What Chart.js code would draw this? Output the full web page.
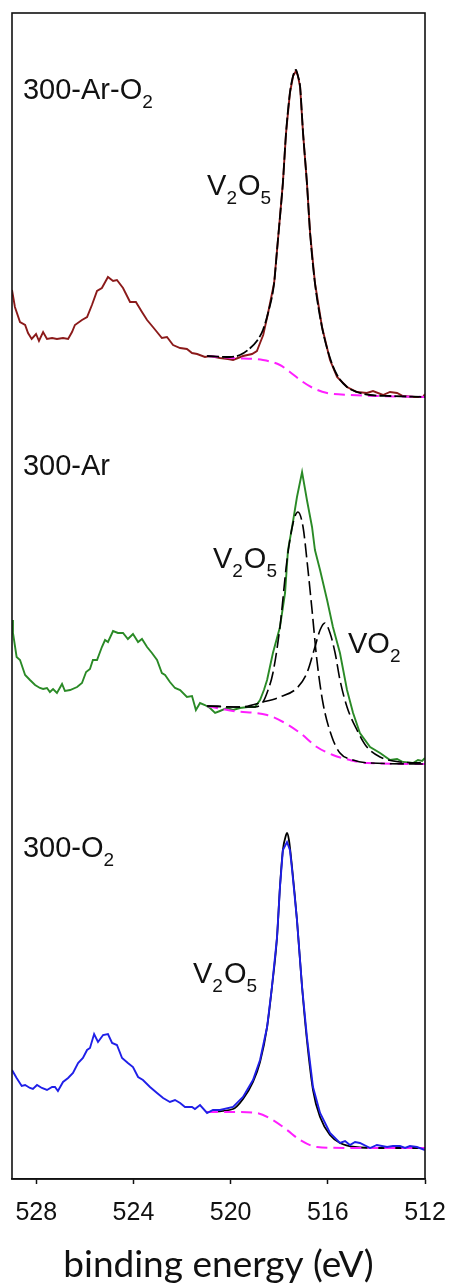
<!DOCTYPE html>
<html>
<head>
<meta charset="utf-8">
<script src="https://cdn.jsdelivr.net/npm/chart.js@4.4.1/dist/chart.umd.min.js"></script>
<style>
html,body{margin:0;padding:0;background:#fff;}
#wrap{width:451px;height:1288px;position:relative;}
</style>
</head>
<body>
<div id="wrap"><canvas id="c" width="451" height="1288"></canvas></div>
<script>
// ---- x axis ----
const xTicks = [528, 524, 520, 516, 512];
const xMin = 512, xMax = 529;
const xTitle = 'binding energy (eV)';

// ---- 300-Ar-O2 (top) : [binding energy eV, intensity a.u. incl. offset] ----
const specArO2 = [[529.00,889],[528.88,872],[528.67,857],[528.46,854],[528.34,846],[528.19,840],[528.01,845],[527.89,838],[527.72,847],[527.56,840],[527.35,841],[527.15,840],[526.90,841],[526.69,840],[526.53,847],[526.41,854],[526.12,859],[525.91,862],[525.71,874],[525.50,888],[525.30,891],[525.05,902],[524.84,898],[524.68,899],[524.43,891],[524.14,877],[523.90,877],[523.65,867],[523.44,859],[523.20,852],[522.83,841],[522.62,842],[522.37,834],[522.08,831],[521.80,830],[521.59,826],[521.38,825],[521.06,822],[520.85,823],[520.44,821],[520.11,820],[519.90,819],[519.70,821],[519.49,823],[519.12,825],[518.92,828],[518.79,836],[518.66,844],[518.46,866],[518.21,896],[518.09,929],[517.97,962],[517.85,996],[517.72,1046],[517.56,1086],[517.43,1103],[517.31,1108],[517.23,1103],[517.14,1092],[517.02,1046],[516.86,996],[516.73,946],[516.53,896],[516.24,852],[515.91,819],[515.62,802],[515.21,792],[514.80,787],[514.39,786],[514.14,788],[513.73,784],[513.44,787],[513.15,786],[512.91,783],[512.41,782],[512.08,782],[512.00,785]];
const fitArO2 = [[520.97,823],[520.03,822],[519.62,824],[519.29,829],[518.92,838],[518.67,849],[518.46,866],[518.21,896],[518.09,929],[517.97,962],[517.85,996],[517.72,1046],[517.56,1086],[517.43,1103],[517.31,1109],[517.23,1103],[517.14,1092],[517.02,1046],[516.86,996],[516.73,946],[516.53,896],[516.24,852],[515.91,821],[515.62,804],[515.21,792],[514.80,787],[514.26,784],[513.44,783],[512.00,782]];
const bgArO2 = [[520.97,823],[519.90,821],[518.67,819],[517.97,814],[517.56,807],[517.14,799],[516.61,791],[516.03,786],[515.09,784],[512.00,782]];

// ---- 300-Ar (middle) ----
const specAr = [[529.00,559],[528.96,546],[528.81,522],[528.67,519],[528.46,504],[528.26,499],[528.05,494],[527.85,491],[527.72,490],[527.56,491],[527.44,487],[527.31,490],[527.15,486],[526.94,495],[526.82,488],[526.61,489],[526.32,492],[526.12,496],[525.95,507],[525.79,510],[525.67,519],[525.50,519],[525.30,532],[525.17,539],[525.05,537],[524.84,548],[524.64,546],[524.43,546],[524.23,540],[524.02,545],[523.81,537],[523.65,540],[523.44,532],[523.24,526],[523.03,519],[522.83,506],[522.70,504],[522.50,497],[522.29,491],[522.08,489],[521.80,482],[521.59,483],[521.43,469],[521.26,476],[521.06,474],[520.85,471],[520.64,466],[520.44,468],[520.15,471],[519.90,469],[519.62,471],[519.29,472],[519.00,472],[518.79,479],[518.63,489],[518.50,499],[518.26,526],[517.97,552],[517.76,586],[517.64,629],[517.47,652],[517.27,682],[517.06,707],[516.86,679],[516.65,652],[516.53,629],[516.32,609],[516.03,579],[515.79,552],[515.50,526],[515.21,489],[514.96,466],[514.68,446],[514.26,432],[513.85,426],[513.44,419],[513.15,420],[512.91,417],[512.49,416],[512.29,419],[512.12,418],[512.00,421]];
const compV2O5Ar = [[520.97,473],[519.62,472],[519.00,472],[518.67,477],[518.46,489],[518.26,506],[517.97,552],[517.68,619],[517.43,656],[517.23,667],[517.02,652],[516.86,619],[516.65,569],[516.45,519],[516.20,476],[515.83,442],[515.50,426],[514.96,419],[514.26,416],[512.00,415]];
const compVO2Ar = [[520.97,473],[519.62,472],[518.67,477],[517.97,482],[517.27,491],[516.86,506],[516.53,532],[516.32,549],[516.12,556],[515.91,546],[515.70,526],[515.50,499],[515.21,472],[514.80,449],[514.39,432],[513.85,422],[513.03,417],[512.00,416]];
const bgAr = [[520.97,473],[519.90,468],[518.50,464],[517.84,457],[517.14,446],[516.45,432],[515.79,424],[515.09,419],[514.39,416],[512.00,415]];

// ---- 300-O2 (bottom) ----
const specO2 = [[529.00,109],[528.81,101],[528.60,93],[528.46,94],[528.26,91],[528.14,90],[527.97,94],[527.77,91],[527.56,89],[527.35,92],[527.23,92],[527.11,88],[526.90,97],[526.69,101],[526.49,106],[526.28,116],[526.08,121],[525.91,129],[525.79,131],[525.62,145],[525.46,137],[525.25,144],[525.05,145],[524.88,136],[524.68,134],[524.47,121],[524.23,116],[524.02,112],[523.81,102],[523.61,99],[523.32,92],[523.03,86],[522.78,81],[522.50,77],[522.29,79],[522.08,76],[521.88,72],[521.59,72],[521.47,70],[521.26,74],[520.97,66],[520.73,69],[520.44,69],[519.90,72],[519.49,82],[519.08,99],[518.79,119],[518.50,152],[518.30,192],[518.09,242],[517.97,292],[517.85,329],[517.68,337],[517.56,329],[517.47,309],[517.27,259],[517.06,192],[516.86,142],[516.61,92],[516.32,66],[515.91,46],[515.50,36],[515.29,38],[515.09,34],[514.88,37],[514.68,36],[514.26,31],[513.98,34],[513.56,32],[513.32,33],[513.03,33],[512.82,31],[512.62,33],[512.33,32],[512.00,29]];
const fitO2 = [[520.97,67],[519.90,70],[519.49,80],[519.08,97],[518.79,117],[518.50,152],[518.30,192],[518.09,242],[517.97,292],[517.85,329],[517.72,344],[517.68,346],[517.60,339],[517.47,311],[517.27,259],[517.06,192],[516.86,139],[516.61,89],[516.32,62],[515.91,44],[515.50,36],[514.88,32],[513.85,31],[512.00,31]];
const bgO2 = [[520.97,67],[519.90,67],[518.92,66],[518.26,59],[517.68,49],[517.14,39],[516.45,32],[515.09,31],[512.00,31]];

// ---- text labels: parts ([string, isSubscript]) placed at [energy, intensity] ----
const labelTexts = [
  {parts:[['300-Ar-O',0],['2',1]], e:528.55, i:1080},
  {parts:[['V',0],['2',1],['O',0],['5',1]], e:520.97, i:984},
  {parts:[['300-Ar',0]], e:528.55, i:704},
  {parts:[['V',0],['2',1],['O',0],['5',1]], e:520.73, i:611},
  {parts:[['VO',0],['2',1]], e:515.17, i:526},
  {parts:[['300-O',0],['2',1]], e:528.55, i:322},
  {parts:[['V',0],['2',1],['O',0],['5',1]], e:521.55, i:196}
];

const toXY = arr => arr.map(p => ({x:p[0], y:p[1]}));

const RED = '#8b1a1a', GREEN = '#2a8a26', BLUE = '#1f1fe8', MAG = '#ff1eff', BLK = '#000000';

function line(data, color, width, dash, smooth, order){
  return {data: toXY(data), borderColor: color, borderWidth: width, borderDash: dash || [],
    pointRadius: 0, fill: false, tension: smooth ? 0.35 : 0, cubicInterpolationMode: smooth ? 'monotone':'default', order: order};
}

const labelPlugin = {
  id:'labels',
  afterDatasetsDraw(chart){
    const ctx = chart.ctx, xs = chart.scales.x, ys = chart.scales.y;
    ctx.save();
    ctx.fillStyle = '#111';
    ctx.textBaseline = 'alphabetic';
    ctx.textAlign = 'left';
    for (const L of labelTexts){
      let x = xs.getPixelForValue(L.e);
      const y = ys.getPixelForValue(L.i);
      for (const [s, sub] of L.parts){
        ctx.font = sub ? '19px "Liberation Sans", Arial, sans-serif' : '29px "Liberation Sans", Arial, sans-serif';
        ctx.fillText(s, x, sub ? y + 9 : y);
        x += ctx.measureText(s).width + (sub ? 1 : 0);
      }
    }
    const a = chart.chartArea;
    ctx.strokeStyle = '#111';
    ctx.lineWidth = 1.6;
    ctx.strokeRect(a.left, a.top, a.right - a.left, a.bottom - a.top);
    ctx.restore();
  }
};

new Chart(document.getElementById('c'), {
  type:'line',
  data:{datasets:[
    line(fitArO2, BLK, 1.8, [12,3], true, 1),
    line(bgArO2, MAG, 2, [11,6], true, 2),
    line(specArO2, RED, 1.9, null, false, 3),
    line(compV2O5Ar, BLK, 1.6, [14,5], true, 1),
    line(compVO2Ar, BLK, 1.6, [14,5], true, 1),
    line(bgAr, MAG, 2, [11,6], true, 2),
    line(specAr, GREEN, 1.9, null, false, 3),
    line(specO2, BLUE, 1.9, null, false, 1),
    line(bgO2, MAG, 2, [11,6], true, 2),
    line(fitO2, BLK, 1.8, null, true, 3)
  ]},
  options:{
    responsive:false, animation:false, devicePixelRatio:1,
    layout:{padding:{left:12, right:26, top:13, bottom:0}},
    plugins:{legend:{display:false}, tooltip:{enabled:false}},
    scales:{
      x:{type:'linear', min:xMin, max:xMax, reverse:true,
        afterBuildTicks: s => { s.ticks = xTicks.map(v => ({value:v})); },
        afterFit: s => { s.height = 109; },
        grid:{drawOnChartArea:false, drawTicks:true, tickLength:5, tickColor:'#111', tickWidth:1.5},
        border:{display:true, color:'#111', width:1.6},
        ticks:{color:'#111', font:{family:'"Liberation Sans", Arial, sans-serif', size:25, lineHeight:2.08}, padding:3, maxRotation:0, autoSkip:false},
        title:{display:true, text:xTitle, color:'#111', font:{family:'Lato, sans-serif', size:37, lineHeight:1.0}, padding:{top:0, bottom:4}}
      },
      y:{display:false, min:0, max:1166}
    }
  },
  plugins:[labelPlugin]
});
</script>
</body>
</html>
